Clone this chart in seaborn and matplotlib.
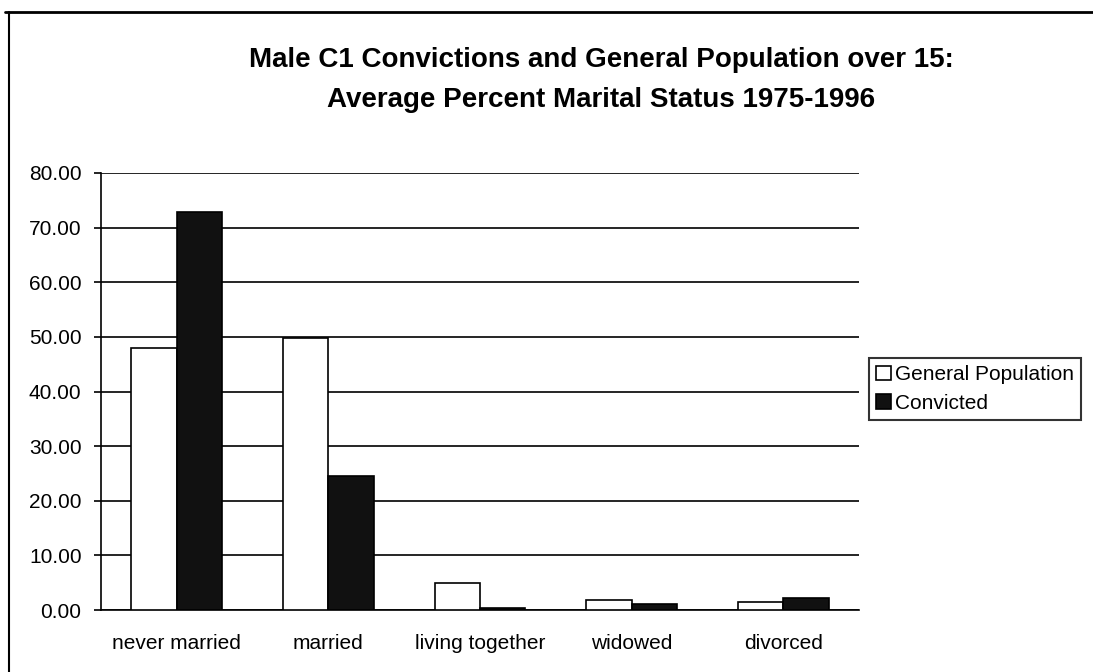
import matplotlib.pyplot as plt
import matplotlib.patches as mpatches
import matplotlib.ticker as mticker
import pandas as pd
import seaborn as sns

sns.set_style("white")
plt.rcParams["font.family"] = ["Liberation Sans", "DejaVu Sans"]
plt.rcParams["text.color"] = "black"
plt.rcParams["xtick.color"] = "black"
plt.rcParams["ytick.color"] = "black"

categories = ["never married", "married", "living together", "widowed", "divorced"]
general_population = [48.0, 49.8, 4.9, 1.9, 1.5]
convicted = [72.9, 24.5, 0.3, 1.1, 2.2]
series = ["General Population", "Convicted"]

df = pd.DataFrame({
    "status": categories * 2,
    "value": general_population + convicted,
    "group": [series[0]] * len(categories) + [series[1]] * len(categories),
})

fig = plt.figure(figsize=(10.93, 6.72), dpi=100)
ax = fig.add_axes([101 / 1093, 1 - 610 / 672, 758 / 1093, 437 / 672])

sns.barplot(data=df, x="status", y="value", hue="group", order=categories,
            hue_order=series, palette=["white", "#111111"], edgecolor="black",
            linewidth=1.2, width=0.6, ax=ax, legend=False, zorder=3)

ax.set_ylim(0, 80)
ax.set_xlim(-0.5, len(categories) - 0.5)
ax.yaxis.set_major_locator(mticker.MultipleLocator(10))
ax.yaxis.set_major_formatter(mticker.FormatStrFormatter("%.2f"))
ax.grid(axis="y", color="black", linewidth=1.2, zorder=0)
ax.set_axisbelow(True)
ax.set_xlabel("")
ax.set_ylabel("")

# category boundary ticks on the x axis
ax.xaxis.set_minor_locator(mticker.FixedLocator([i - 0.5 for i in range(len(categories) + 1)]))
ax.tick_params(axis="x", which="major", length=0, labelsize=15, pad=17)
ax.tick_params(axis="x", which="minor", length=5, width=1.2, direction="out", color="black")
ax.tick_params(axis="y", length=5, width=1.2, direction="out", color="black",
               labelsize=15, pad=9, left=True)

for s in ["top", "right"]:
    ax.spines[s].set_visible(False)
for s in ["left", "bottom"]:
    ax.spines[s].set_color("black")
    ax.spines[s].set_linewidth(1.2)

handles = [mpatches.Patch(facecolor="white", edgecolor="black", linewidth=1.2, label=series[0]),
           mpatches.Patch(facecolor="#111111", edgecolor="black", linewidth=1.2, label=series[1])]
leg = fig.legend(handles=handles, loc="center left", bbox_to_anchor=(869 / 1093, 1 - 389 / 672),
                 frameon=True, fancybox=False, edgecolor="black", fontsize=15,
                 handlelength=0.7, handleheight=0.7, handletextpad=0.2, borderpad=0.35,
                 labelspacing=0.45, borderaxespad=0)
leg.get_frame().set_linewidth(1.5)

fig.text(601 / 1093, 1 - 60 / 672, "Male C1 Convictions and General Population over 15:",
         ha="center", va="center", fontsize=20, fontweight="bold")
fig.text(601 / 1093, 1 - 100 / 672, "Average Percent Marital Status 1975-1996",
         ha="center", va="center", fontsize=20, fontweight="bold")

# chart border: only top and left edges visible
fig.add_artist(plt.Line2D([5 / 1093, 1], [1 - 12 / 672] * 2, transform=fig.transFigure,
                          color="black", linewidth=2))
fig.add_artist(plt.Line2D([9 / 1093] * 2, [0, 1 - 12 / 672], transform=fig.transFigure,
                          color="black", linewidth=1.5))

fig.savefig("out.png", dpi=100)
